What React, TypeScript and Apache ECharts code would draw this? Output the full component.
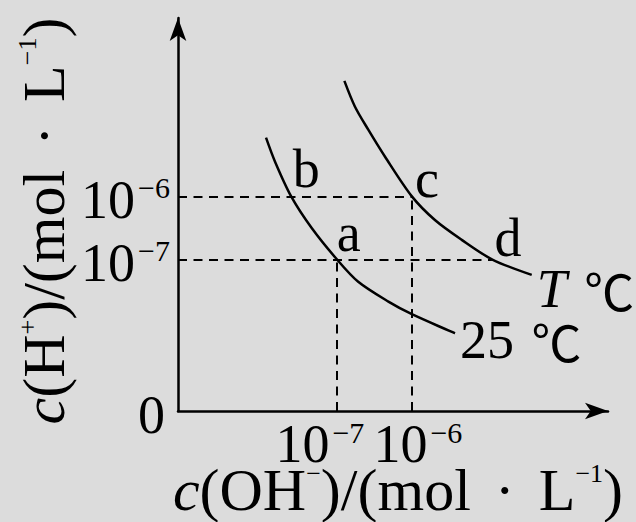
import React, { useEffect, useRef } from 'react';
import * as echarts from 'echarts';

// Schematic axis range (arbitrary units); axis arrows end at the max
const X_MAX = 102.6;
const Y_MAX = 103.1;

// Curve for 25 ℃ : [c(OH-), c(H+)] in schematic units
const curve25X = [21.0, 23.15, 27.0, 31.9, 37.9, 43.0, 50.2, 55.8, 66.1];
const curve25Y = [71.7, 65.4, 56.3, 48.0, 39.8, 33.9, 28.7, 25.4, 20.4];
// Curve for T ℃
const curveTX = [39.7, 42.2, 45.4, 49.4, 55.8, 61.3, 67.7, 74.9, 84.4];
const curveTY = [86.6, 79.9, 73.8, 66.7, 56.3, 50.1, 44.9, 39.8, 35.7];

const curveNames = ['25 ℃', 'T ℃'];

// Marked points
const pointNames = ['a', 'b', 'c', 'd'];
const pointX = [37.9, 27.0, 55.8, 74.9];
const pointY = [39.8, 56.3, 56.3, 39.8];

// Tick labels
const xTickValues = [37.9, 55.8];
const xTickExps = ['−7', '−6'];
const yTickValues = [0, 39.8, 56.3];
const yTickExps = ['', '−7', '−6'];

const FONT = '"Liberation Serif", "Times New Roman", serif';
const CJK = '"Noto Sans CJK SC", "Noto Sans CJK JP", sans-serif';

const tickRich = {
  n: { fontSize: 54, lineHeight: 54, fontFamily: FONT, color: '#000' },
  s: { fontSize: 30, lineHeight: 34, fontFamily: FONT, color: '#000', verticalAlign: 'top', padding: [0, 0, 0, 3] },
};

const nameRich = {
  n: { fontSize: 60, lineHeight: 60, fontFamily: FONT, color: '#000' },
  i: { fontSize: 60, lineHeight: 60, fontFamily: FONT, color: '#000', fontStyle: 'italic' },
  s: { fontSize: 26, lineHeight: 37, fontFamily: FONT, color: '#000', verticalAlign: 'top' },
  d: { fontSize: 60, lineHeight: 60, fontFamily: FONT, color: '#000', padding: [0, 9, 0, 9] },
};

const endRich = {
  n: { fontSize: 54, lineHeight: 54, fontFamily: FONT, color: '#000' },
  i: { fontSize: 54, lineHeight: 54, fontFamily: FONT, color: '#000', fontStyle: 'italic' },
  g: { fontSize: 50, lineHeight: 54, fontFamily: CJK, color: '#000', padding: [0, 0, 0, 4] },
};

export default function App() {
  const ref = useRef<HTMLDivElement>(null);
  useEffect(() => {
    if (!ref.current) return;
    const chart = echarts.init(ref.current, null, { renderer: 'svg' });

    const zip = (xs: number[], ys: number[]) => xs.map((x, k) => [x, ys[k]]);
    const idxA = 0, idxB = 1, idxC = 2, idxD = 3;
    const dashed = [
      [{ coord: [0, pointY[idxB]] }, { coord: [pointX[idxC], pointY[idxC]] }],
      [{ coord: [0, pointY[idxA]] }, { coord: [pointX[idxD], pointY[idxD]] }],
      [{ coord: [pointX[idxA], 0] }, { coord: [pointX[idxA], pointY[idxA]] }],
      [{ coord: [pointX[idxC], 0] }, { coord: [pointX[idxC], pointY[idxC]] }],
    ];
    const labelOffsets = [
      [12, -26],
      [15, -27],
      [15, -17],
      [16, -21],
    ];
    // horizontal shift of each x tick label (typeset position in the reference)
    const xLabelPadding = [
      [0, 34, 0, 0],
      [0, 0, 0, 12],
    ];

    const nearestIdx = (vals: number[], v: number) => {
      let best = 0;
      vals.forEach((x, k) => {
        if (Math.abs(x - v) < Math.abs(vals[best] - v)) best = k;
      });
      return best;
    };

    const endLabelText = (name: string) => {
      const [num, unit] = name.split(' ');
      return num === 'T' ? `{i|T}{n| }{g|${unit}}` : `{n|${num} }{g|${unit}}`;
    };

    const makeXAxis = (k: number, main: boolean) => ({
      type: 'value',
      min: 0,
      max: X_MAX,
      position: 'bottom',
      axisLine: {
        show: main,
        symbol: ['none', 'arrow'],
        symbolSize: [12.5, 23],
        lineStyle: { color: '#000', width: 2.5 },
      },
      axisTick: { show: false },
      splitLine: { show: false },
      axisLabel: {
        customValues: [xTickValues[k]],
        interval: 0,
        hideOverlap: false,
        margin: 6,
        padding: xLabelPadding[k],
        formatter: () => `{n|10}{s|${xTickExps[k]}}`,
        rich: tickRich,
      },
      ...(main
        ? {
            name: '{i|c}{n|(OH}{s|−}{n|)/(mol }{d|·}{n| L}{s|−1}{n|)}',
            nameLocation: 'middle',
            nameGap: 49,
            nameMoveOverlap: false,
            nameTextStyle: { rich: nameRich, padding: [0, 0, 0, 10] },
          }
        : {}),
    });

    const option: any = {
      animation: false,
      backgroundColor: '#dcdcdc',
      grid: { left: 178, right: 28, top: 18, bottom: 111, containLabel: false, outerBoundsMode: 'none' },
      xAxis: [makeXAxis(1, true), makeXAxis(0, false)],
      yAxis: {
        type: 'value',
        min: 0,
        max: Y_MAX,
        axisLine: {
          show: true,
          symbol: ['none', 'arrow'],
          symbolSize: [12.5, 23],
          lineStyle: { color: '#000', width: 2.5 },
        },
        axisTick: { show: false },
        splitLine: { show: false },
        axisLabel: {
          customValues: yTickValues,
          interval: 0,
          hideOverlap: false,
          margin: 8,
          padding: [7, 0, 0, 0],
          formatter: (v: number) => {
            const k = nearestIdx(yTickValues, v);
            return yTickExps[k] === '' ? '{z|0}' : `{n|10}{s|${yTickExps[k]}}`;
          },
          rich: {
            ...tickRich,
            z: { ...tickRich.n, padding: [0, 5, 0, 0] },
          },
        },
        name: '{i|c}{n|(H}{s|+}{n|)/(mol }{d|·}{n| L}{s|−1}{n|)}',
        nameLocation: 'middle',
        nameGap: 104,
        nameMoveOverlap: false,
        nameTextStyle: { rich: nameRich, padding: [0, 13, 0, 0] },
      },
      series: [
        {
          type: 'line',
          name: curveNames[0],
          xAxisIndex: 0,
          data: zip(curve25X, curve25Y),
          smooth: 0.3,
          showSymbol: false,
          symbol: 'none',
          lineStyle: { color: '#000', width: 2.5 },
          endLabel: {
            show: true,
            formatter: () => endLabelText(curveNames[0]),
            distance: 5,
            offset: [0, 7],
            rich: endRich,
          },
          markLine: {
            silent: true,
            symbol: ['none', 'none'],
            label: { show: false },
            lineStyle: { color: '#000', width: 2, type: [9, 6.5] },
            data: dashed,
          },
          z: 3,
        },
        {
          type: 'line',
          name: curveNames[1],
          xAxisIndex: 0,
          data: zip(curveTX, curveTY),
          smooth: 0.3,
          showSymbol: false,
          symbol: 'none',
          lineStyle: { color: '#000', width: 2.5 },
          endLabel: {
            show: true,
            formatter: () => endLabelText(curveNames[1]),
            distance: 5,
            offset: [0, 14],
            rich: endRich,
          },
          z: 3,
        },
        {
          type: 'scatter',
          xAxisIndex: 0,
          symbolSize: 0,
          silent: true,
          itemStyle: { color: '#000', opacity: 1 },
          data: pointNames.map((nm, k) => ({
            name: nm,
            value: [pointX[k], pointY[k]],
            label: { offset: labelOffsets[k] },
          })),
          label: {
            show: true,
            position: 'inside',
            formatter: (p: any) => p.name,
            fontSize: 54,
            fontFamily: FONT,
            color: '#000',
            opacity: 1,
            textBorderWidth: 0,
            textBorderColor: 'transparent',
          },
        },
      ],
    };
    chart.setOption(option);
    return () => chart.dispose();
  }, []);
  return (
    <div
      ref={ref}
      style={{ position: 'absolute', left: 0, top: 0, width: 636, height: 522 }}
    />
  );
}
